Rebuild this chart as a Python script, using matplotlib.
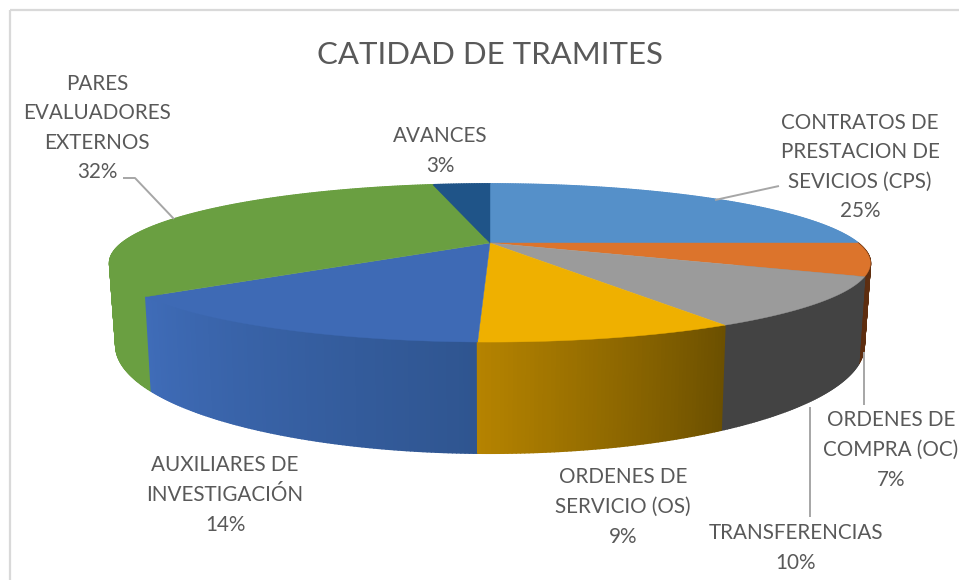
import numpy as np
import matplotlib
matplotlib.use("Agg")
import matplotlib.pyplot as plt
from matplotlib.patches import Polygon, Rectangle
from matplotlib.collections import PolyCollection
from matplotlib.colors import to_rgb

categories = ["CONTRATOS DE\nPRESTACION DE\nSEVICIOS (CPS)", "ORDENES DE\nCOMPRA (OC)", "TRANSFERENCIAS",
              "ORDENES DE\nSERVICIO (OS)", "AUXILIARES DE\nINVESTIGACIÓN", "PARES\nEVALUADORES\nEXTERNOS", "AVANCES"]
values = [25.0, 6.7, 10.0, 8.7, 14.1, 32.4, 3.1]
top_colors = ["#5590c9", "#dc742c", "#9b9b9b", "#efb000", "#3e6ab5", "#6a9f41", "#1f5488"]
wall_start = ["#5590c9", "#6b3512", "#434343", "#b58300", "#3f6cb8", "#6a9f41", "#1f5488"]
wall_end = ["#5590c9", "#5c2d10", "#434343", "#6c5000", "#2f5590", "#6a9f41", "#1f5488"]
label_pos = [(860, 167), (891, 450), (796, 548), (623, 507), (225, 495), (97, 128), (440, 151)]
leaders = [[(779, 186), (715, 200)], [(864, 352), (864, 405)], [(810, 407), (810, 517)],
           [], [], [(123, 178), (135, 178), (174, 219)], []]

CX, CY, A, B, K = 490, 243, 368, 74, 0.253
A2, Y2, B2 = 362, 318, 101

def top(theta):
    X, Y = np.sin(theta), np.cos(theta)
    w = 1 + K * Y
    return CX + A * X / w, CY - B * Y / w

def bottom(theta):
    X, Y = np.sin(theta), np.cos(theta)
    w = 1 + K * Y
    return CX + A2 * X / w, Y2 - B2 * Y / w

fig = plt.figure(figsize=(9.59, 5.80), dpi=100)
ax = fig.add_axes([0, 0, 1, 1])
ax.set_xlim(0, 959)
ax.set_ylim(580, 0)
ax.axis("off")
ax.add_patch(Rectangle((10, 10), 1000, 1000, fill=False, ec="#d9d9d9", lw=1.6))

edges = np.radians(np.concatenate([[0], np.cumsum(values)]) / sum(values) * 360)

quads, cols, depth = [], [], []
for i in range(len(values)):
    n = max(int(np.degrees(edges[i + 1] - edges[i]) * 2), 2)
    t = np.linspace(edges[i], edges[i + 1], n + 1)
    c0, c1 = np.array(to_rgb(wall_start[i])), np.array(to_rgb(wall_end[i]))
    for j in range(n):
        a, b = t[j], t[j + 1]
        quads.append([top(a), top(b), bottom(b), bottom(a)])
        f = j / max(n - 1, 1)
        cols.append(c1 * (1 - f) + c0 * f if i in (3, 4) else c0 * (1 - f) + c1 * f)
        depth.append(np.cos((a + b) / 2))
order = np.argsort(depth)[::-1]
ax.add_collection(PolyCollection([quads[o] for o in order], facecolors=[cols[o] for o in order],
                                 edgecolors=[cols[o] for o in order], linewidths=1.2, zorder=2))

for i in range(len(values)):
    t = np.linspace(edges[i], edges[i + 1], 120)
    xs, ys = top(t)
    pts = np.vstack([[CX, CY], np.column_stack([xs, ys])])
    ax.add_patch(Polygon(pts, closed=True, fc=top_colors[i], ec=top_colors[i], lw=0.3, zorder=3))

for seg in leaders:
    if seg:
        ax.plot(*zip(*seg), color="#a6a6a6", lw=1.4, zorder=4, solid_capstyle="butt")

FONT = "Lato"
for name, v, (x, y) in zip(categories, values, label_pos):
    ax.text(x, y, f"{name}\n{round(v)}%", ha="center", va="center", ma="center", fontsize=14.9,
            family=FONT, color="#595959", linespacing=1.6, zorder=5)
ax.text(490, 55, "CATIDAD DE TRAMITES", ha="center", va="center", fontsize=22.4, family=FONT, color="#595959", zorder=5)

fig.savefig("out.png", dpi=100)
